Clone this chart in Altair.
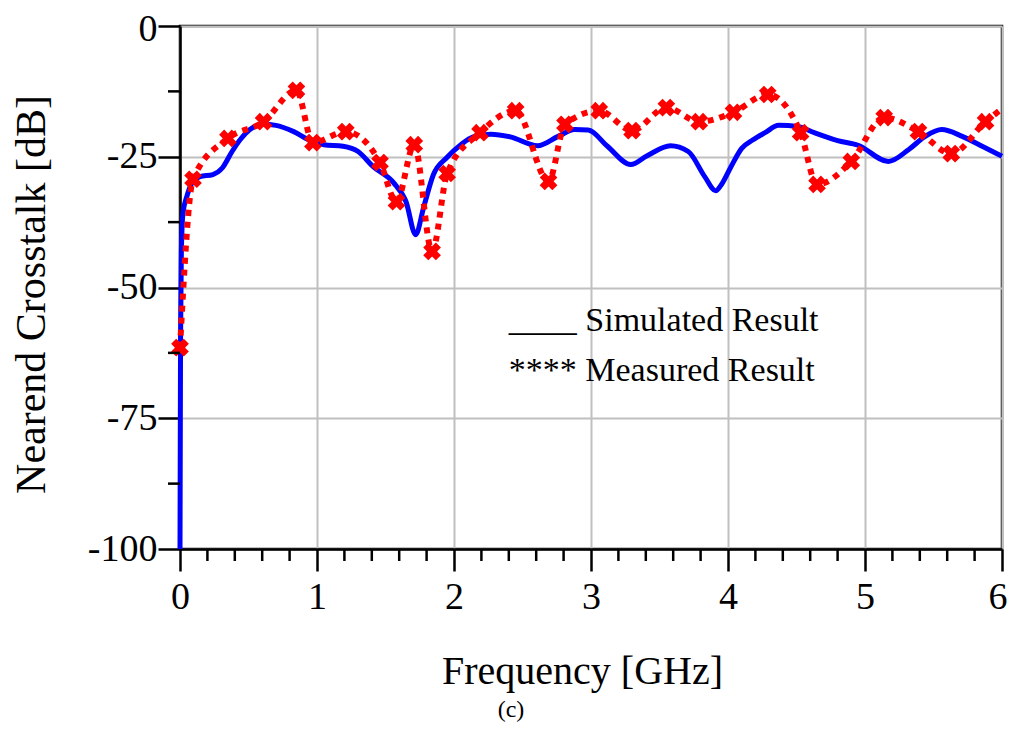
import altair as alt
import pandas as pd

# Simulated result (blue solid curve)
sim_freq = [0.0, 0.004, 0.01, 0.022, 0.05, 0.088, 0.146, 0.24, 0.31, 0.38, 0.44, 0.51,
            0.61, 0.70, 0.83, 0.95, 1.05, 1.19, 1.30, 1.41, 1.56, 1.65, 1.72, 1.78,
            1.85, 1.95, 2.05, 2.14, 2.27, 2.41, 2.61, 2.76, 2.88, 2.98, 3.12, 3.29,
            3.41, 3.58, 3.71, 3.83, 3.91, 3.95, 4.02, 4.10, 4.18, 4.27, 4.37, 4.51,
            4.63, 4.80, 4.95, 5.17, 5.32, 5.44, 5.56, 5.71, 5.87, 6.0]
sim_db = [-100, -60, -43, -35.7, -32.6, -30, -28.8, -28.4, -27.1, -24, -21.7, -19.8,
          -18.8, -19, -20.2, -21.9, -22.7, -23, -24, -26.9, -30, -33.6, -39.9, -34.5,
          -28.4, -25.1, -22.7, -21.2, -20.7, -21.2, -22.9, -21.1, -19.8, -19.9, -23, -26.5,
          -24.8, -22.9, -24, -28.8, -31.5, -30.4, -27, -23.4, -21.8, -20.4, -19, -19.2,
          -20.4, -21.9, -22.8, -25.9, -23.6, -21.1, -19.8, -21.1, -23.2, -24.9]

# Measured result (red dotted curve with x markers)
meas_freq = [0.0, 0.095, 0.35, 0.61, 0.85, 0.97, 1.21, 1.46, 1.58, 1.71, 1.84, 1.95,
             2.19, 2.45, 2.69, 2.81, 3.06, 3.30, 3.55, 3.79, 4.04, 4.29, 4.53, 4.65,
             4.90, 5.14, 5.39, 5.63, 5.88]
meas_db = [-61.5, -29.3, -21.5, -18.3, -12.3, -22.3, -20.2, -26.1, -33.6, -22.7, -43.1, -28.2,
           -20.4, -16.2, -29.7, -18.8, -16.2, -20.0, -15.6, -18.3, -16.5, -13.1, -20.4, -30.3,
           -25.9, -17.5, -20.2, -24.4, -18.3]
meas_tail_freq = [6.0]
meas_tail_db = [-15.8]

# Axis ticks
x_major = [0, 1, 2, 3, 4, 5, 6]
x_minor = [0.2, 0.4, 0.6, 0.8, 1.2, 1.4, 1.6, 1.8, 2.2, 2.4, 2.6, 2.8, 3.2, 3.4, 3.6, 3.8,
           4.2, 4.4, 4.6, 4.8, 5.2, 5.4, 5.6, 5.8]
y_major = [0, -25, -50, -75, -100]
y_minor = [-12.5, -37.5, -62.5, -87.5]

# Legend-like annotation text
legend_text = ["____ Simulated Result", "**** Measured Result"]
legend_freq = [2.40, 2.40]
legend_db = [-58.4, -67.8]
caption = ["(c)"]

FONT = "Liberation Serif"
W, H = 822, 523

sim_df = pd.DataFrame({"f": sim_freq, "db": sim_db})
meas_df = pd.DataFrame({"f": meas_freq, "db": meas_db})
meas_line_df = pd.DataFrame({"f": meas_freq + meas_tail_freq, "db": meas_db + meas_tail_db})
xminor_df = pd.DataFrame({"f": x_minor})
yminor_df = pd.DataFrame({"db": y_minor})
legend_df = pd.DataFrame({"f": legend_freq, "db": legend_db, "t": legend_text})
cap_df = pd.DataFrame({"t": caption})

xscale = alt.Scale(domain=[0, 6], nice=False, zero=False)
yscale = alt.Scale(domain=[-100, 0], nice=False, zero=False)

xaxis = alt.Axis(values=x_major, title="Frequency [GHz]", tickSize=22, labelPadding=7,
                 labelFontSize=38, labelFont=FONT, labelColor="black",
                 labelAlign={"condition": {"test": "datum.value == 6", "value": "right"},
                             "value": "center"},
                 labelOffset={"condition": {"test": "datum.value == 6", "value": 5},
                              "value": 0},
                 titleFontSize=40, titleFont=FONT, titleFontWeight="normal", titleColor="black",
                 titleX=402, titleY=134, titleBaseline="alphabetic", titleAlign="center",
                 grid=True, labelFlush=False, labelExpr="'' + datum.value")
yaxis = alt.Axis(values=y_major, title="Nearend Crosstalk [dB]", tickSize=22, labelPadding=1,
                 labelFontSize=38, labelFont=FONT, labelColor="black",
                 labelOffset={"condition": {"test": "datum.value == 0", "value": 3},
                              "value": 0},
                 titleFontSize=42, titleFont=FONT, titleFontWeight="normal", titleColor="black",
                 titleX=-136, titleY=268, titleAngle=270, titleBaseline="alphabetic",
                 titleAlign="center", grid=True, labelFlush=False,
                 labelExpr="'' + datum.value")

x_enc = alt.X("f:Q", scale=xscale, axis=xaxis)
y_enc = alt.Y("db:Q", scale=yscale, axis=yaxis)

sim_line = alt.Chart(sim_df).mark_line(
    color="#0000FF", strokeWidth=5, interpolate="monotone"
).encode(x=x_enc, y=y_enc)

meas_line = alt.Chart(meas_line_df).mark_line(
    color="#FF0000", strokeWidth=6, strokeDash=[6, 6], interpolate="monotone"
).encode(x=alt.X("f:Q", scale=xscale), y=alt.Y("db:Q", scale=yscale))

meas_pts = alt.Chart(meas_df).mark_point(
    shape="cross", angle=45, filled=True, size=320, color="#FF0000", opacity=1
).encode(x=alt.X("f:Q", scale=xscale), y=alt.Y("db:Q", scale=yscale))

xminor = alt.Chart(xminor_df).mark_rule(color="black", strokeWidth=2.5).encode(
    x=alt.X("f:Q", scale=xscale), y=alt.value(H), y2=alt.value(H + 12))

yminor = alt.Chart(yminor_df).mark_rule(color="black", strokeWidth=2.5).encode(
    y=alt.Y("db:Q", scale=yscale), x=alt.value(0), x2=alt.value(-12))

legend = alt.Chart(legend_df).mark_text(
    align="left", baseline="alphabetic", fontSize=34, font=FONT, color="black"
).encode(x=alt.X("f:Q", scale=xscale), y=alt.Y("db:Q", scale=yscale), text="t:N")

cap = alt.Chart(cap_df).mark_text(
    align="center", baseline="middle", fontSize=24, font=FONT, color="black"
).encode(x=alt.value(331), y=alt.value(684), text="t:N")

chart = alt.layer(sim_line, meas_line, meas_pts, xminor, yminor, legend, cap).properties(
    width=W, height=H, autosize="none",
    padding={"left": 172, "top": 18, "right": 5, "bottom": 174},
).configure_view(
    stroke="black", strokeWidth=2.5
).configure_axis(
    domainColor="black", domainWidth=2.5, tickColor="black", tickWidth=2.5,
    gridColor="#C0C0C0", gridWidth=2, gridOpacity=1
)

chart.save("out.html", embed_options={"renderer": "svg", "actions": False})
